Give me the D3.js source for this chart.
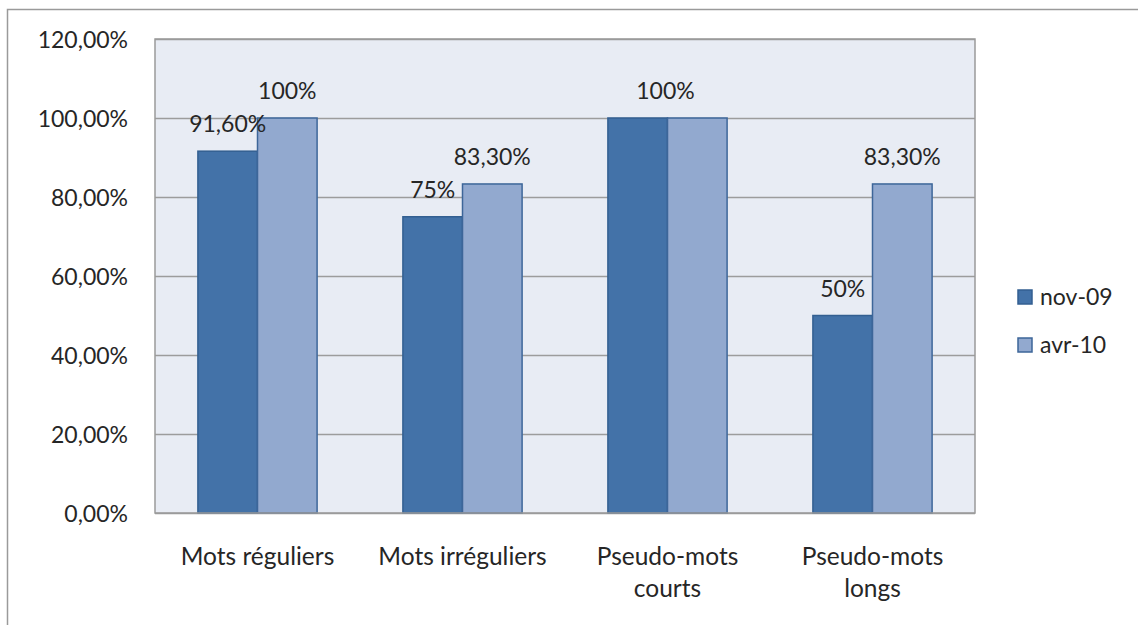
<!DOCTYPE html>
<html>
<head>
<meta charset="utf-8">
<script src="https://cdn.jsdelivr.net/npm/d3@7"></script>
<style>
  body { margin: 0; background: #fff; }
  text { font-family: Lato, "Open Sans", sans-serif; fill: #262626; }
</style>
</head>
<body>
<div id="bar-chart"></div>
<script>
// Chart data
var categories = ["Mots réguliers", "Mots irréguliers", "Pseudo-mots courts", "Pseudo-mots longs"];
var seriesNames = ["nov-09", "avr-10"];
var nov09 = [0.916, 0.75, 1.00, 0.50];
var avr10 = [1.00, 0.833, 1.00, 0.833];
var nov09Labels = ["91,60%", "75%", "", "50%"];
var avr10Labels = ["100%", "83,30%", "", "83,30%"];
// one label shared by both bars of a category (drawn at the category centre)
var sharedLabels = ["", "", "100%", ""];
var yTicks = [0, 0.2, 0.4, 0.6, 0.8, 1.0, 1.2];

var colors = {"nov-09": "#4372a8", "avr-10": "#92a9cf"};
var strokes = {"nov-09": "#335f91", "avr-10": "#3d6699"};

var svg = d3.select("#bar-chart").append("svg")
    .attr("width", 1138)
    .attr("height", 625);

// Outer chart frame (right and bottom sides fall outside the picture)
svg.append("rect")
    .attr("x", 7.5).attr("y", 9.5)
    .attr("width", 1300).attr("height", 800)
    .attr("fill", "none")
    .attr("stroke", "#9a9a9a")
    .attr("stroke-width", 1.5);

var margin = {left: 155, top: 39, right: 163, bottom: 112};
var width = 1138 - margin.left - margin.right;
var height = 625 - margin.top - margin.bottom;

var chart = svg.append("g")
    .attr("transform", "translate(" + margin.left + "," + margin.top + ")");

var frLocale = d3.formatLocale({decimal: ",", thousands: " ", grouping: [3], currency: ["", " €"]});

var x0 = d3.scaleBand()
    .domain(categories)
    .range([0, width])
    .paddingInner(0)
    .paddingOuter(0);

var x1 = d3.scaleBand()
    .domain(seriesNames)
    .range([0, x0.bandwidth()])
    .paddingInner(0)
    .paddingOuter(0.72);

var y = d3.scaleLinear()
    .domain([0, 1.2])
    .range([height, 0]);

// Plot background
chart.append("rect")
    .attr("width", width)
    .attr("height", height)
    .attr("fill", "#e8ecf4");

// Horizontal gridlines
var yGrid = d3.axisLeft(y).tickValues(yTicks).tickSize(-width).tickFormat("");
chart.append("g")
    .classed("grid", true)
    .call(yGrid)
    .call(function(g) { g.select(".domain").remove(); })
    .selectAll("line")
    .attr("stroke", "#9c9c9c")
    .attr("stroke-width", 1.5);

// Bars
var rows = categories.map(function(c, i) {
    return {cat: c, values: [
        {s: "nov-09", v: nov09[i], label: nov09Labels[i]},
        {s: "avr-10", v: avr10[i], label: avr10Labels[i]}
    ]};
});

var groups = chart.append("g").classed("bars", true)
    .selectAll("g")
    .data(rows)
    .enter().append("g")
    .attr("transform", function(d) { return "translate(" + x0(d.cat) + ",0)"; });

groups.selectAll("rect")
    .data(function(d) { return d.values; })
    .enter().append("rect")
    .attr("x", function(d) { return x1(d.s); })
    .attr("width", x1.bandwidth())
    .attr("y", function(d) { return y(d.v); })
    .attr("height", function(d) { return height - y(d.v); })
    .attr("fill", function(d) { return colors[d.s]; })
    .attr("stroke", function(d) { return strokes[d.s]; })
    .attr("stroke-width", 1.5);

// Plot frame
chart.append("rect")
    .attr("width", width)
    .attr("height", height)
    .attr("fill", "none")
    .attr("stroke", "#9a9a9a")
    .attr("stroke-width", 1.5);

// Data labels
var labelSize = "23px";
var catSize = "24.5px";
groups.selectAll("text.value")
    .data(function(d) { return d.values.filter(function(v) { return v.label; }); })
    .enter().append("text")
    .classed("value", true)
    .attr("x", function(d) { return x1(d.s) + x1.bandwidth() / 2; })
    .attr("y", function(d) { return y(d.v) - 19; })
    .attr("text-anchor", "middle")
    .style("font-size", labelSize)
    .text(function(d) { return d.label; });

chart.append("g").selectAll("text")
    .data(categories.filter(function(c, i) { return sharedLabels[i]; }))
    .enter().append("text")
    .attr("x", function(c) { return x0(c) + x0.bandwidth() / 2 - 2; })
    .attr("y", function(c) {
        var i = categories.indexOf(c);
        return y(Math.max(nov09[i], avr10[i])) - 19;
    })
    .attr("text-anchor", "middle")
    .style("font-size", labelSize)
    .text(function(c) { return sharedLabels[categories.indexOf(c)]; });

// Y axis labels
var yAxis = d3.axisLeft(y)
    .tickValues(yTicks)
    .tickSize(0)
    .tickPadding(27)
    .tickFormat(frLocale.format(".2%"));

var yG = chart.append("g").classed("y axis", true).call(yAxis);
yG.select(".domain").remove();
yG.selectAll("text")
    .attr("dy", "0.36em")
    .style("font-size", labelSize)
    .style("font-family", "Lato, sans-serif")
    .attr("fill", "#262626");

// X axis labels (wrapped like the original)
var xAxis = d3.axisBottom(x0).tickSize(0).tickPadding(0);
var xG = chart.append("g")
    .classed("x axis", true)
    .attr("transform", "translate(0," + height + ")")
    .call(xAxis);
xG.select(".domain").remove();
xG.selectAll("text")
    .attr("y", 0).attr("dy", null)
    .style("font-size", catSize)
    .style("font-family", "Lato, sans-serif")
    .attr("fill", "#262626")
    .each(function(d) {
        var t = d3.select(this);
        var words = d.split(" ");
        t.text(words.join(" "));
        if (this.getComputedTextLength() > 190) {
            t.text(null);
            t.append("tspan").attr("x", 0).attr("y", 52).text(words.slice(0, -1).join(" "));
            t.append("tspan").attr("x", 0).attr("y", 84).text(words[words.length - 1]);
        } else {
            t.attr("y", 52);
        }
    });

// Legend
var legend = svg.append("g").classed("legend", true)
    .attr("transform", "translate(1018,290)");

var items = legend.selectAll("g")
    .data(seriesNames)
    .enter().append("g")
    .attr("transform", function(d, i) { return "translate(0," + (i * 48) + ")"; });

items.append("rect")
    .attr("width", 14).attr("height", 14)
    .attr("fill", function(d) { return colors[d]; })
    .attr("stroke", function(d) { return strokes[d]; })
    .attr("stroke-width", 1.5);

items.append("text")
    .attr("x", 22).attr("y", 15)
    .style("font-size", labelSize)
    .text(function(d) { return d; });
</script>
</body>
</html>
